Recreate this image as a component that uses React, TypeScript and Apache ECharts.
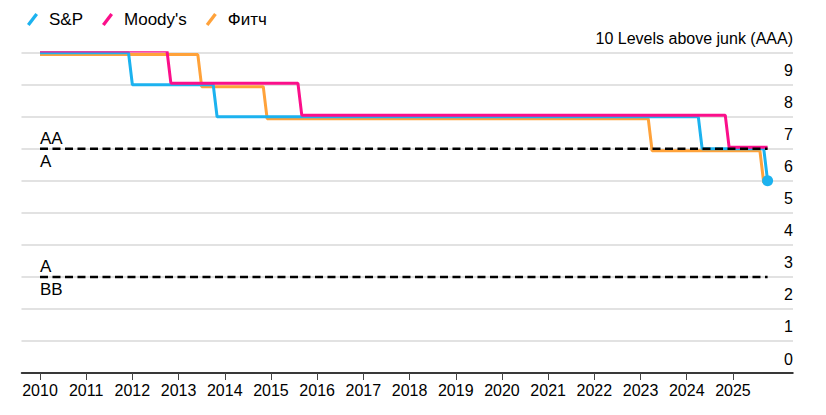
import React, { useEffect, useRef } from "react";
import * as echarts from "echarts";

// ---- Data (month of value, rating level: 10 levels above junk = AAA) ----
const years = [2010, 2011, 2012, 2013, 2014, 2015, 2016, 2017, 2018, 2019, 2020, 2021, 2022, 2023, 2024, 2025];

const spRatings: [string, number][] = [
  ["2010-01", 10], ["2011-12", 10], ["2012-01", 9], ["2013-10", 9], ["2013-11", 8],
  ["2024-04", 8], ["2024-05", 7], ["2025-09", 7], ["2025-10", 6],
];
const moodysRatings: [string, number][] = [
  ["2010-01", 10], ["2012-10", 10], ["2012-11", 9], ["2015-08", 9], ["2015-09", 8],
  ["2024-11", 8], ["2024-12", 7], ["2025-10", 7],
];
const fitchRatings: [string, number][] = [
  ["2010-01", 10], ["2013-06", 10], ["2013-07", 9], ["2014-11", 9], ["2014-12", 8],
  ["2023-03", 8], ["2023-04", 7], ["2025-08", 7], ["2025-09", 6],
];

const seriesNames = ["S&P", "Moody's", "Фитч"];

const thresholdLevels = [7, 3];
const thresholdRange: [string, string] = ["2010-01", "2025-10"];

const zoneLabels = [
  { text: "AA", level: 7, side: "above" },
  { text: "A", level: 7, side: "below" },
  { text: "A", level: 3, side: "above" },
  { text: "BB", level: 3, side: "below" },
];

const yTickLabels = ["0", "1", "2", "3", "4", "5", "6", "7", "8", "9", "10 Levels above junk (AAA)"];

// ---- helpers ----
const toYear = (s: string) => {
  const [y, m] = s.split("-").map(Number);
  return y + (m - 1) / 12;
};

const FONT = "'Liberation Sans', Arial, Helvetica, sans-serif";
const COLORS = { sp: "#1cb2ef", moodys: "#fb0f8a", fitch: "#ffa23a" };

export default function App() {
  const ref = useRef<HTMLDivElement>(null);

  useEffect(() => {
    if (!ref.current) return;
    const chart = echarts.init(ref.current, null, { renderer: "svg" });

    const mk = (arr: [string, number][], nudge: number) =>
      arr.map(([d, v]) => [toYear(d), v + nudge]);

    const spData: any[] = mk(spRatings, 0);
    const last = spData[spData.length - 1];
    spData[spData.length - 1] = { value: last, symbol: "circle", symbolSize: 11 };

    const legendIcon = "path://M0,9.6 L7.6,-0.4 L10,1.4 L2.4,11.4 Z";

    const option: any = {
      animation: false,
      legend: {
        data: seriesNames.map((n) => ({ name: n, icon: legendIcon })),
        left: 22,
        top: 6,
        itemWidth: 11,
        itemHeight: 13,
        itemGap: 19,
        itemStyle: { borderWidth: 0 },
        textStyle: { fontSize: 17, color: "#000", fontFamily: FONT, padding: [0, 0, 0, 6] },
      },
      grid: {
        left: 21.5,
        right: 33,
        top: 52.7,
        bottom: 42,
        containLabel: false,
        outerBoundsMode: "none",
      },
      xAxis: {
        type: "value",
        min: 2009.6,
        max: 2026.3,
        splitLine: { show: false },
        axisLine: { show: true, lineStyle: { color: "#000", width: 1.5 } },
        axisTick: { show: true, customValues: years, length: 7, lineStyle: { color: "#444", width: 1 } },
        axisLabel: {
          customValues: years,
          formatter: (v: number) => String(Math.round(v)),
          fontSize: 16,
          color: "#000",
          fontFamily: FONT,
          margin: 9,
        },
      },
      yAxis: {
        type: "value",
        position: "right",
        min: 0,
        max: 10,
        interval: 1,
        axisLine: { show: false },
        axisTick: { show: false },
        splitLine: { show: true, lineStyle: { color: "#d8d8d8", width: 1.5 } },
        axisLabel: {
          inside: true,
          margin: 0,
          align: "right",
          verticalAlign: "bottom",
          padding: [0, 0, 6, 0],
          fontSize: 16,
          color: "#000",
          fontFamily: FONT,
          formatter: (v: number) => yTickLabels[Math.round(v)] ?? "",
        },
      },
      series: [
        {
          name: "Фитч",
          type: "line",
          data: mk(fitchRatings, -0.06),
          symbol: "none",
          lineStyle: { color: COLORS.fitch, width: 3 },
          itemStyle: { color: COLORS.fitch },
          z: 2,
        },
        {
          name: "S&P",
          type: "line",
          data: spData,
          symbol: "none",
          showSymbol: true,
          lineStyle: { color: COLORS.sp, width: 3 },
          itemStyle: { color: COLORS.sp },
          z: 3,
        },
        {
          name: "Moody's",
          type: "line",
          data: mk(moodysRatings, 0.05),
          symbol: "none",
          lineStyle: { color: COLORS.moodys, width: 3 },
          itemStyle: { color: COLORS.moodys },
          z: 4,
        },
        ...thresholdLevels.map((lv) => ({
          name: "threshold-" + lv,
          type: "line",
          data: thresholdRange.map((d) => [toYear(d), lv]),
          symbol: "none",
          lineStyle: { color: "#000", width: 2.5, type: [8, 4.5] },
          z: 5,
          silent: true,
        })),
        {
          name: "zones",
          type: "scatter",
          symbolSize: 0,
          silent: true,
          z: 6,
          itemStyle: { opacity: 1, color: "#000" },
          data: zoneLabels.map((zl) => ({
            value: [toYear(thresholdRange[0]), zl.level],
            label: {
              show: true,
              formatter: zl.text,
              position: zl.side === "above" ? [0, -2] : [0, 4.5],
              align: "left",
              verticalAlign: zl.side === "above" ? "bottom" : "top",
              fontSize: 17,
              color: "#000",
              opacity: 1,
              textBorderWidth: 0,
              fontFamily: FONT,
            },
          })),
        },
      ],
    };

    chart.setOption(option);
    return () => chart.dispose();
  }, []);

  return (
    <div
      ref={ref}
      style={{ position: "fixed", left: 0, top: 0, width: 826, height: 415, background: "#fff" }}
    />
  );
}
